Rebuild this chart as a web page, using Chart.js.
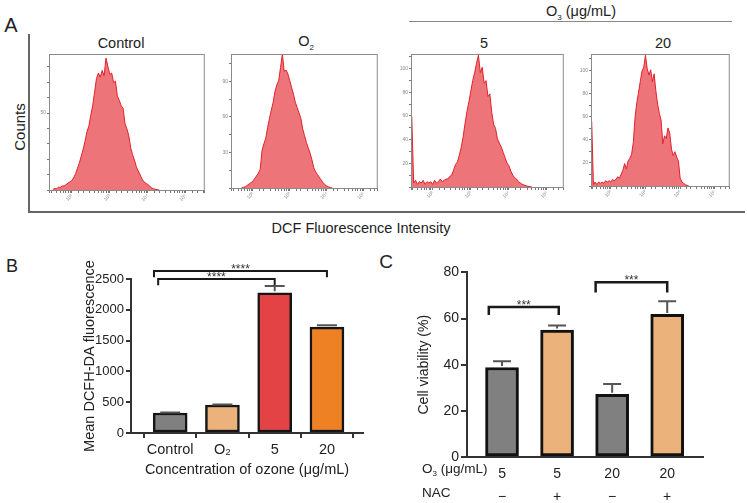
<!DOCTYPE html>
<html>
<head>
<meta charset="utf-8">
<script src="https://cdn.jsdelivr.net/npm/chart.js@4.4.1/dist/chart.umd.min.js"></script>
<style>
body{margin:0;background:#fff;font-family:"Liberation Sans",Arial,sans-serif;color:#222}
#fig{position:relative;width:747px;height:503px;overflow:hidden;background:#fff}
.t{position:absolute;white-space:nowrap;font-size:14.5px;line-height:1;transform:translate(-50%,-50%)}
.l{position:absolute;white-space:nowrap;font-size:13.5px;line-height:1;transform:translateY(-50%)}
.ln{position:absolute;background:#666}
canvas{position:absolute}
</style>
</head>
<body>
<div id="fig">
  <!-- panel A frame + labels -->
  <div class="t" style="left:11px;top:25px;font-size:20px">A</div>
  <div class="ln" style="left:28px;top:34px;width:1.5px;height:178px"></div>
  <div class="ln" style="left:28px;top:211px;width:717px;height:1.5px"></div>
  <div class="ln" style="left:409px;top:21px;width:323px;height:1px;background:#888"></div>
  <div class="t" style="left:19px;top:127px;font-size:15px;transform:translate(-50%,-50%) rotate(-90deg)">Counts</div>
  <div class="t" style="left:121px;top:43px">Control</div>
  <div class="t" style="left:306px;top:43px">O<sub style="font-size:8px">2</sub></div>
  <div class="t" style="left:581px;top:13px">O<sub style="font-size:8px">3</sub> (μg/mL)</div>
  <div class="t" style="left:484px;top:43px">5</div>
  <div class="t" style="left:663px;top:43px">20</div>
  <div class="t" style="left:361px;top:228px">DCF Fluorescence Intensity</div>
  <canvas id="hControl"></canvas>
  <canvas id="hO2"></canvas>
  <canvas id="h5"></canvas>
  <canvas id="h20"></canvas>

  <!-- panel B -->
  <div class="t" style="left:12px;top:266px;font-size:18px">B</div>
  <canvas id="chartB"></canvas>

  <!-- panel C -->
  <div class="t" style="left:386px;top:261px;font-size:19px">C</div>
  <canvas id="chartC"></canvas>
  <div class="l" style="left:422px;top:470px">O<sub style="font-size:8px">3</sub> (μg/mL)</div>
  <div class="l" style="left:422px;top:493px">NAC</div>
</div>
<script>
// ---- panel A: histogram counts (% of frame height), bins every 0.05 log10 units
const histStep = 0.05
const controlStart = 1.50
const controlCounts = [0.5,1,1,2,2,3,3,4,5,6,
  7,9,12,16,20,25,30,36,43,47,
  55,62,72,82,86,83,88,84,97,91,
  85,86,79,80,69,66,62,60,49,45,
  40,31,26,22,17,14,11,8,6,5,
  4,3,1.5,1,0.5,0.3,0]
const o2Start = 1.70
const o2Counts = [0.3,0.5,1,2,3,4,
  5,7,9,11,14,28,33,37,45,52,
  58,64,72,77,80,90,100,87,88,85,
  80,75,70,64,60,56,52,44,39,34,
  30,26,21,15,12,10,8,6,4,2.5,
  1.5,0.8,0.3,0]
const o3LowStart = 1.45
const o3LowCounts = [53,3,5,2,4,3,5,2,4,3,4,
  2,5,3,4,6,4,5,6,6,8,
  9,13,17,19,24,30,38,48,57,64,
  72,80,86,93,99,86,90,78,80,68,
  70,56,47,44,36,33,30,26,22,18,
  16,12,9,7,6,4,3,2,1.5,1,
  0.5,0.3,0]
const o3HighStart = 1.45
const o3HighCounts = [49,1,3,1,3,2,3,2,4,3,4,
  3,5,4,5,7,6,9,12,17,13,
  19,21,24,33,52,63,71,79,87,90,
  99,89,84,88,79,85,72,62,55,50,
  32,38,36,44,40,28,23,26,22,19,
  6,3,2,1,0.5,0]

// ---- panel B
const bLabels = ["Control", "O₂", "5", "20"]
const bMeans = [325, 455, 2275, 1720]
const bErrs = [8, 6, 110, 28]
const bColors = ["#808080", "#ebb27b", "#e34345", "#ef8125"]
const bTicks = [0, 500, 1000, 1500, 2000, 2500]
const bSig = [
  {from: -0.31, to: 3, y: 2630, tip: 2530, text: "****"},
  {from: -0.23, to: 2, y: 2500, tip: 2400, text: "****"},
]

// ---- panel C
const cConc = ["5", "5", "20", "20"]
const cNac = ["−", "+", "−", "+"]
const cMeans = [38.8, 55, 27.2, 61.8]
const cErrs = [2.7, 2, 4.4, 5.7]
const cColors = ["#808080", "#ebb27b", "#808080", "#ebb27b"]
const cTicks = [0, 20, 40, 60, 80]
const cSig = [
  {from: -0.24, to: 1.03, y: 65, tip: 61.5, text: "***"},
  {from: 1.7, to: 3, y: 75.7, tip: 71.3, text: "***"},
]

Chart.defaults.font.family = '"Liberation Sans", Arial, sans-serif'
Chart.defaults.color = "#222"

const sup = {1: "¹", 2: "²", 3: "³", 4: "⁴", 5: "⁵"}

const boxPlugin = {
  id: "box",
  afterDraw(chart) {
    const a = chart.chartArea, ctx = chart.ctx
    ctx.save()
    ctx.strokeStyle = "#8a8a8a"
    ctx.lineWidth = 1
    ctx.strokeRect(a.left + 0.5, a.top + 0.5, a.right - a.left - 1, a.bottom - a.top)
    ctx.restore()
  }
}

const place = (el, left, top, w, h) => {
  el.width = w; el.height = h
  el.style.left = left + "px"; el.style.top = top + "px"
  el.style.width = w + "px"; el.style.height = h + "px"
}

const histPanels = [
  {id: "hControl", start: controlStart, counts: controlCounts, box: [49, 52, 206, 190], range: [1.40, 5.50], major: 28.3, per: 5, labels: ["25", "50", "75"]},
  {id: "hO2", start: o2Start, counts: o2Counts, box: [231, 52, 379, 188], range: [1.41, 5.38], major: 26.5, per: 4, labels: ["30", "60", "90"]},
  {id: "h5", start: o3LowStart, counts: o3LowCounts, box: [411, 52, 565, 187], range: [1.43, 5.44], major: 17.8, per: 4, labels: ["20", "40", "60", "80", "100"]},
  {id: "h20", start: o3HighStart, counts: o3HighCounts, box: [591, 52, 731, 186], range: [1.43, 5.43], major: 17.5, per: 4, labels: ["20", "40", "60", "80", "100"]},
]

histPanels.forEach(p => {
  const el = document.getElementById(p.id)
  const [l, t, r, b] = p.box
  place(el, l - 14, t - 2, r - l + 14 + 3, b - t + 2 + 14)
  const pts = p.counts.map((c, i) => ({x: Math.pow(10, p.start + i * histStep), y: c}))
  new Chart(el, {
    type: "line",
    data: {datasets: [{
      data: pts, fill: "origin", tension: 0, pointRadius: 0,
      borderColor: "#e0222c", borderWidth: 1,
      backgroundColor: "rgba(234,98,102,0.88)"
    }]},
    options: {
      responsive: false, animation: false,
      layout: {padding: {top: 2, right: 3, left: 0, bottom: 0}},
      plugins: {legend: {display: false}, tooltip: {enabled: false}},
      scales: {
        x: {
          type: "logarithmic", min: Math.pow(10, p.range[0]), max: Math.pow(10, p.range[1]),
          grid: {drawOnChartArea: false, tickLength: 3, color: "#777"},
          border: {color: "#8a8a8a"},
          ticks: {
            autoSkip: false, maxRotation: 45, minRotation: 45, padding: 0,
            font: {size: 5}, color: "#888",
            callback: v => {
              const e = Math.log10(v)
              return Math.abs(e - Math.round(e)) < 1e-6 ? "10" + sup[Math.round(e)] : ""
            }
          },
          afterFit: s => { s.height = 14 }
        },
        y: {
          min: 0, max: 100,
          grid: {drawOnChartArea: false, tickLength: 2, color: "#777"},
          border: {color: "#8a8a8a"},
          afterBuildTicks: s => {
            const step = p.major / p.per, ticks = []
            for (let i = 0; i * step <= 100; i++) ticks.push({value: i * step})
            s.ticks = ticks
          },
          ticks: {
            padding: 1, font: {size: 5}, color: "#888",
            callback: (v, i) => (i > 0 && i % p.per === 0) ? (p.labels[i / p.per - 1] || "") : ""
          },
          afterFit: s => { s.width = 14 }
        }
      }
    },
    plugins: [boxPlugin]
  })
})

// ---- bar charts (B and C)
const errPlugin = {
  id: "errs",
  afterDatasetsDraw(chart, args, o) {
    const {ctx, scales: {x, y}} = chart
    ctx.save()
    ctx.strokeStyle = "#555"
    ctx.lineWidth = 2
    o.means.forEach((m, i) => {
      const px = x.getPixelForValue(i)
      const top = y.getPixelForValue(m + o.errs[i])
      ctx.beginPath()
      ctx.moveTo(px, y.getPixelForValue(m) - 1.5)
      ctx.lineTo(px, top)
      ctx.moveTo(px - o.cap, top)
      ctx.lineTo(px + o.cap, top)
      ctx.stroke()
    })
    ctx.restore()
  }
}

const sigPlugin = {
  id: "sig",
  afterDraw(chart, args, o) {
    const {ctx, scales: {x, y}} = chart
    ctx.save()
    ctx.strokeStyle = "#1a1a1a"
    ctx.lineWidth = o.width
    ctx.fillStyle = "#333"
    ctx.font = '12px "Liberation Sans", Arial, sans-serif'
    ctx.textAlign = "center"
    ctx.textBaseline = "alphabetic"
    o.items.forEach(s => {
      const x1 = x.getPixelForValue(s.from), x2 = x.getPixelForValue(s.to)
      const py = y.getPixelForValue(s.y), pt = y.getPixelForValue(s.tip)
      ctx.beginPath()
      ctx.moveTo(x1, pt); ctx.lineTo(x1, py); ctx.lineTo(x2, py); ctx.lineTo(x2, pt)
      ctx.stroke()
      ctx.fillText(s.text, (x1 + x2) / 2, py + 2)
    })
    ctx.restore()
  }
}

// panel B
const elB = document.getElementById("chartB")
place(elB, 81, 252, 288, 227)
new Chart(elB, {
  type: "bar",
  data: {datasets: [{
    data: bMeans.map((v, i) => ({x: i, y: v})),
    backgroundColor: bColors, borderColor: "#151515", borderWidth: 2.5,
    borderSkipped: false, barThickness: 34
  }]},
  options: {
    responsive: false, animation: false,
    layout: {padding: {top: 27, right: 6, left: 0, bottom: 0}},
    plugins: {
      legend: {display: false}, tooltip: {enabled: false},
      errs: {means: bMeans, errs: bErrs, cap: 10},
      sig: {items: bSig, width: 2}
    },
    scales: {
      x: {
        type: "linear", min: -0.75, max: 3.69, offset: false,
        grid: {drawOnChartArea: false, tickLength: 5, color: "#333", lineWidth: 2},
        border: {color: "#333", width: 2},
        afterBuildTicks: s => { s.ticks = bLabels.map((_, i) => ({value: i})) },
        ticks: {font: {size: 14.5}, color: "#222", padding: 3, callback: v => bLabels[v]},
        title: {display: true, text: "Concentration of ozone (μg/mL)", font: {size: 14.5}, color: "#222", padding: 0},
        afterFit: s => { s.height = 46 }
      },
      y: {
        min: 0, max: 2500,
        grid: {drawOnChartArea: false, tickLength: 5, color: "#333", lineWidth: 2},
        border: {color: "#333", width: 2},
        afterBuildTicks: s => { s.ticks = bTicks.map(v => ({value: v})) },
        ticks: {font: {size: 13}, color: "#222", padding: 2, callback: v => String(v)},
        title: {display: true, text: "Mean DCFH-DA fluorescence", font: {size: 14.5}, color: "#222", padding: 0},
        afterFit: s => { s.width = 50 }
      }
    }
  },
  plugins: [errPlugin, sigPlugin]
})

// panel C
const elC = document.getElementById("chartC")
place(elC, 416, 262, 293, 241)
new Chart(elC, {
  type: "bar",
  data: {datasets: [{
    data: cMeans.map((v, i) => ({x: i, y: v})),
    backgroundColor: cColors, borderColor: "#111", borderWidth: 3,
    borderSkipped: false, barThickness: 33
  }]},
  options: {
    responsive: false, animation: false,
    layout: {padding: {top: 10, right: 6, left: 0, bottom: 0}},
    plugins: {
      legend: {display: false}, tooltip: {enabled: false},
      errs: {means: cMeans, errs: cErrs, cap: 9},
      sig: {items: cSig, width: 2.5}
    },
    scales: {
      x: {
        type: "linear", min: -0.636, max: 3.65, offset: false,
        grid: {display: false, drawTicks: false},
        border: {color: "#333", width: 2},
        afterBuildTicks: s => { s.ticks = cConc.map((_, i) => ({value: i})) },
        ticks: {font: {size: 14, lineHeight: 1.64}, color: "#222", padding: 6,
          callback: v => [cConc[v], cNac[v]]},
        afterFit: s => { s.height = 46 }
      },
      y: {
        min: 0, max: 80,
        grid: {drawOnChartArea: false, tickLength: 6, color: "#333", lineWidth: 2},
        border: {color: "#333", width: 2},
        afterBuildTicks: s => { s.ticks = cTicks.map(v => ({value: v})) },
        ticks: {font: {size: 14}, color: "#222", padding: 2},
        title: {display: true, text: "Cell viability (%)", font: {size: 14}, color: "#222", padding: 0},
        afterFit: s => { s.width = 51 }
      }
    }
  },
  plugins: [errPlugin, sigPlugin]
})
</script>
</body>
</html>
